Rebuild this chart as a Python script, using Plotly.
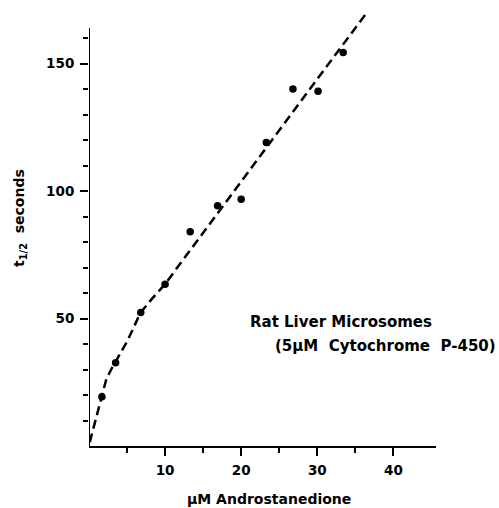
import plotly.graph_objects as go

# Measured data points
conc = [1.7, 3.5, 6.8, 10.0, 13.3, 16.9, 20.0, 23.3, 26.8, 30.1, 33.4]
t_half = [19.3, 32.7, 52.4, 63.4, 84.0, 94.2, 96.8, 119.0, 140.0, 139.1, 154.3]

# Dashed curve drawn through the data
fit_x = [0.1, 0.8, 1.7, 2.3, 3.0, 3.5, 5.0, 5.8, 6.7, 8.2, 10.0, 11.5, 20.0, 36.4]
fit_y = [1.5, 9.5, 19.5, 26.5, 30.5, 33.0, 41.0, 46.0, 52.0, 57.5, 63.5, 69.6, 103.8, 169.6]

x_ticks = [10, 20, 30, 40]
x_minor = [5, 15, 25, 35]
y_ticks = [50, 100, 150]
y_minor = [10, 20, 30, 40, 60, 70, 80, 90, 110, 120, 130, 140, 160]

FONT = "DejaVu Sans"

fig = go.Figure()
fig.add_trace(go.Scatter(x=fit_x, y=fit_y, mode="lines",
                         line=dict(color="black", width=2.5, dash="9px,5px"),
                         hoverinfo="skip"))
fig.add_trace(go.Scatter(x=conc, y=t_half, mode="markers",
                         marker=dict(color="black", size=7.5), cliponaxis=False))

fig.update_layout(
    width=499, height=508,
    margin=dict(l=89, r=63, t=8, b=62),
    paper_bgcolor="white", plot_bgcolor="white",
    showlegend=False,
    font=dict(family=FONT, color="black", size=13, weight=700),
)
fig.update_xaxes(
    range=[0, 45.6], showgrid=False, zeroline=False,
    showline=True, linecolor="black", linewidth=2,
    tickvals=x_ticks, ticks="outside", ticklen=8, tickwidth=2, tickcolor="black",
    ticklabelstandoff=3,
    tickfont=dict(family=FONT, size=13.5, weight=700),
    minor=dict(tickvals=x_minor, ticks="outside", ticklen=5, tickwidth=2, tickcolor="black"),
)
fig.update_yaxes(
    range=[0, 171.8], showgrid=False, zeroline=False, showline=False,
    tickvals=y_ticks, ticks="outside", ticklen=8, tickwidth=2, tickcolor="black",
    ticklabelstandoff=3,
    tickfont=dict(family=FONT, size=13.5, weight=700),
    minor=dict(tickvals=y_minor, ticks="outside", ticklen=5, tickwidth=2, tickcolor="black"),
)
# y axis line stops at the top of the scale
fig.add_shape(type="line", xref="x", yref="y", x0=0, x1=0, y0=0, y1=164,
              line=dict(color="black", width=2))

fig.add_annotation(xref="paper", yref="paper", x=0.52, y=-0.12,
                   text="μM Androstanedione", showarrow=False,
                   font=dict(family=FONT, size=14, weight=700),
                   xanchor="center", yanchor="middle")
fig.add_annotation(xref="paper", yref="paper", x=-0.199, y=0.5205,
                   text="t<sub>1/2</sub>  seconds", showarrow=False, textangle=-90,
                   font=dict(family=FONT, size=14, weight=700),
                   xanchor="center", yanchor="middle")
fig.add_annotation(xref="paper", yref="paper", x=0.459, y=0.283,
                   text="Rat Liver Microsomes", showarrow=False,
                   font=dict(family=FONT, size=15, weight=700),
                   xanchor="left", yanchor="middle")
fig.add_annotation(xref="paper", yref="paper", x=0.531, y=0.228,
                   text="(5μM  Cytochrome  P-450)", showarrow=False,
                   font=dict(family=FONT, size=15, weight=700),
                   xanchor="left", yanchor="middle")

fig.write_html("out.html")
